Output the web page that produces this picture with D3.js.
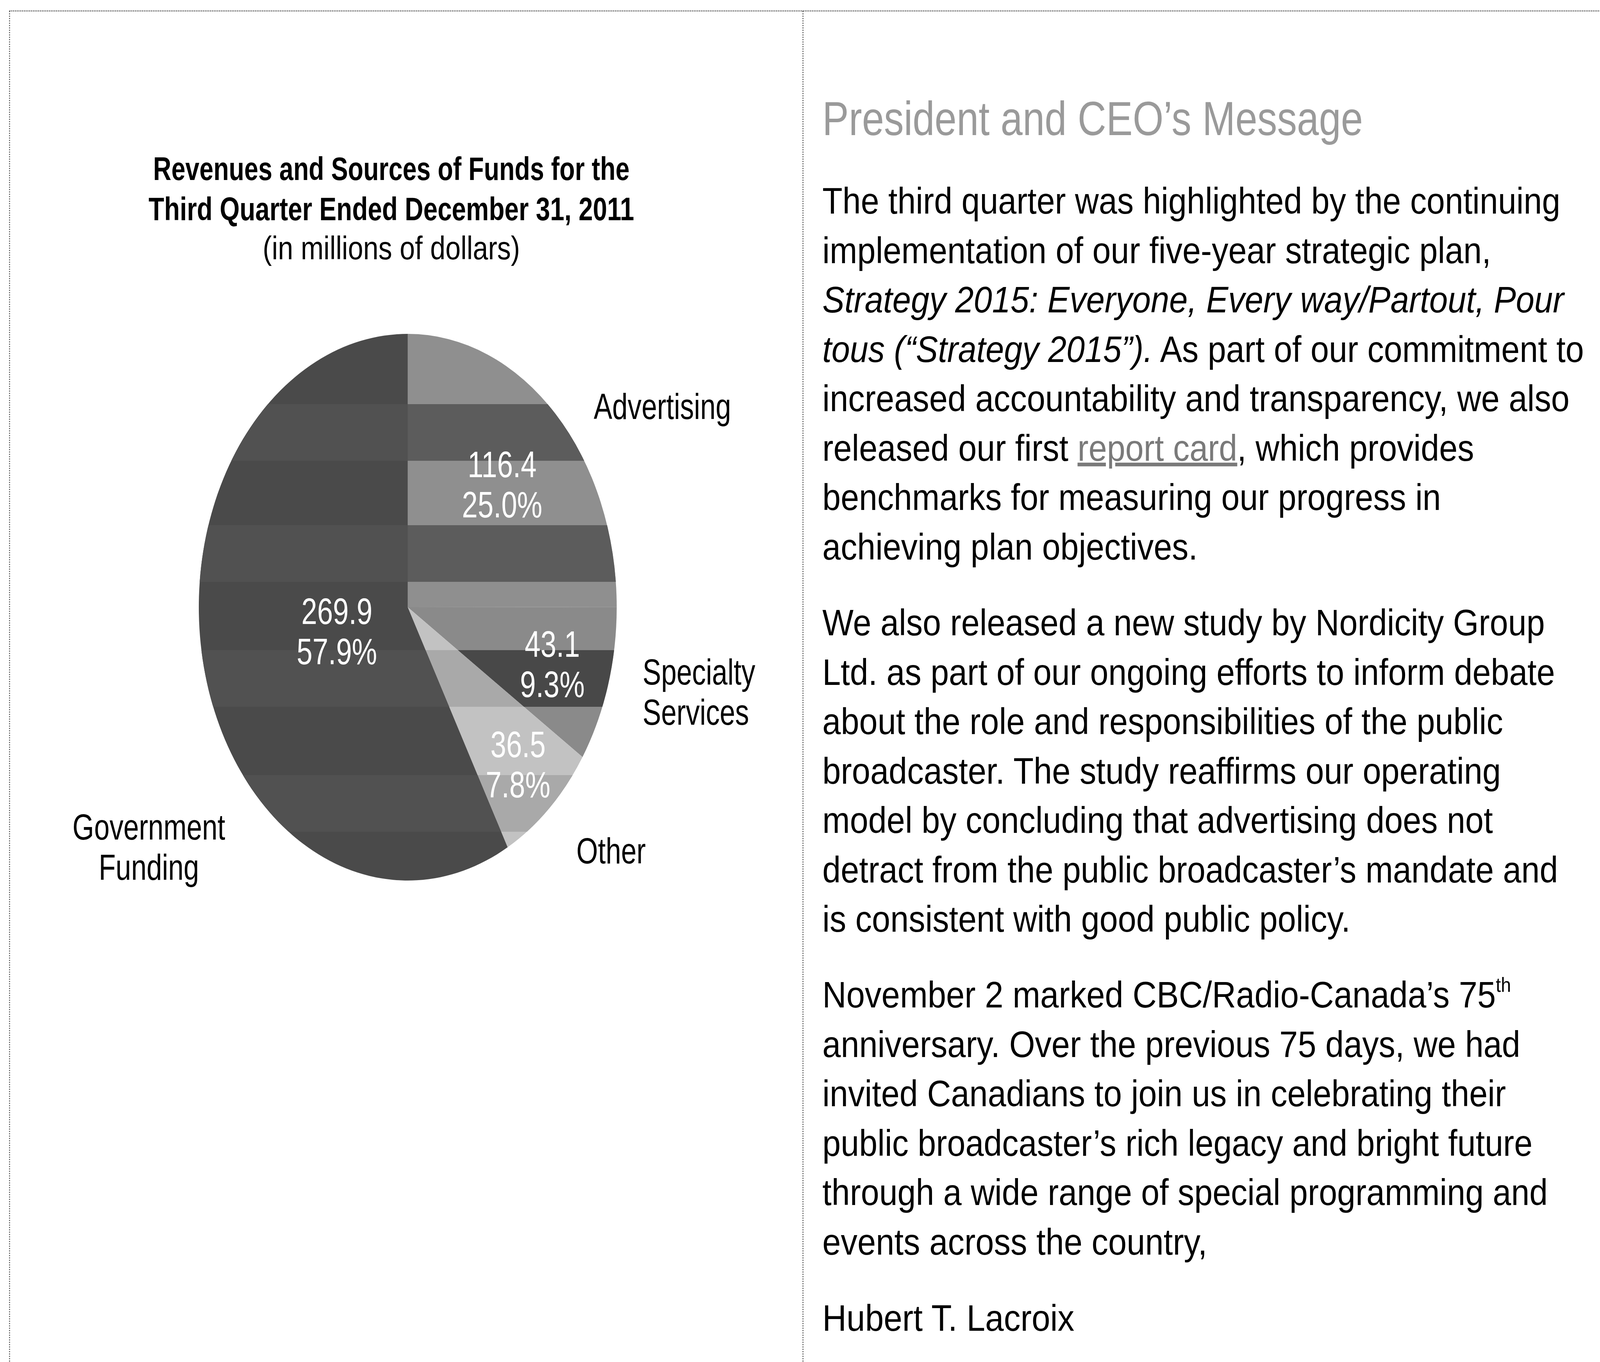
<!DOCTYPE html>
<html><head><meta charset="utf-8">
<script src="https://cdn.jsdelivr.net/npm/d3@7"></script>
<style>html,body{margin:0;padding:0;background:#fff;width:100%;height:100%;overflow:hidden;} svg{display:block;width:100vw;height:100vh}</style>
</head><body>
<script>
// ---------- data ----------
const categories = ["Advertising", "Specialty Services", "Other", "Government Funding"];
const values = [116.4, 43.1, 36.5, 269.9];
const valueLabels = ["116.4", "43.1", "36.5", "269.9"];
const percentLabels = ["25.0%", "9.3%", "7.8%", "57.9%"];
const outerLabelLines = [["Advertising"], ["Specialty", "Services"], ["Other"], ["Government", "Funding"]];
const titleLines = ["Revenues and Sources of Funds for the", "Third Quarter Ended December 31, 2011", "(in millions of dollars)"];
const heading = "President and CEO\u2019s Message";
// body lines: segments [text, style] (n = normal, i = italic, l = link, s = superscript)
const bodyParagraphs = [
  [
    [["The third quarter was highlighted by the continuing", "n"]],
    [["implementation of our five-year strategic plan,", "n"]],
    [["Strategy 2015: Everyone, Every way/Partout, Pour", "i"]],
    [["tous (\u201CStrategy 2015\u201D).", "i"], [" As part of our commitment to", "n"]],
    [["increased accountability and transparency, we also", "n"]],
    [["released our first ", "n"], ["report card", "l"], [", which provides", "n"]],
    [["benchmarks for measuring our progress in", "n"]],
    [["achieving plan objectives.", "n"]]
  ],
  [
    [["We also released a new study by Nordicity Group", "n"]],
    [["Ltd. as part of our ongoing efforts to inform debate", "n"]],
    [["about the role and responsibilities of the public", "n"]],
    [["broadcaster. The study reaffirms our operating", "n"]],
    [["model by concluding that advertising does not", "n"]],
    [["detract from the public broadcaster\u2019s mandate and", "n"]],
    [["is consistent with good public policy.", "n"]]
  ],
  [
    [["November 2 marked CBC/Radio-Canada\u2019s 75", "n"], ["th", "s"]],
    [["anniversary. Over the previous 75 days, we had", "n"]],
    [["invited Canadians to join us in celebrating their", "n"]],
    [["public broadcaster\u2019s rich legacy and bright future", "n"]],
    [["through a wide range of special programming and", "n"]],
    [["events across the country,", "n"]]
  ],
  [
    [["Hubert T. Lacroix", "n"]]
  ]
];

// ---------- layout / style ----------
const W = 5360, H = 3488;
const FONT = "'Liberation Sans', Arial, Helvetica, sans-serif";
const sliceFills = ["#8f8f8f", "#8a8a8a", "#c2c2c2", "#4a4a4a"];
const bandFills  = ["#5c5c5c", "#484848", "#a9a9a9", "#515151"];
const bandRanges = [[1035, 1180], [1345, 1490], [1665, 1810], [1985, 2130]]; // halftone scan banding (page y)
const pieCx = 1366, pieCy = 1555, R = 700;
const labelRadiusFrac = [0.639, 0.722, 0.779, 0.35];
const outerLabelLayout = [
  {dx: 0.89, dy: -0.689, anchor: "start"},
  {dx: 1.124, dy: 0.283, anchor: "start"},
  {dx: 0.807, dy: 0.937, anchor: "start"},
  {dx: -1.239, dy: 0.85, anchor: "middle"}
];
const titleWidths = [1596, 1627, 862];
const bodyWidths = [
  [2472, 2240, 2488, 2551, 2503, 2183, 2072, 1257],
  [2420, 2454, 2280, 2273, 2246, 2464, 1769],
  [2307, 2338, 2290, 2379, 2430, 1289],
  [844]
];
const paraStart = [547, 1627, 2580, 3408];
const lineStep = 126.5;
const textX = 2755;

const svg = d3.select("body").append("svg")
  .attr("viewBox", `0 0 ${W} ${H}`)
  .attr("preserveAspectRatio", "none")
  .style("font-family", FONT);
svg.append("rect").attr("width", W).attr("height", H).attr("fill", "#fff");

// dotted frame lines
const frame = svg.append("g").attr("stroke", "#4a4a4a").attr("stroke-width", 3).attr("stroke-dasharray", "3,3").attr("fill", "none");
frame.append("line").attr("x1", 32).attr("x2", W).attr("y1", 28).attr("y2", 28);
frame.append("line").attr("x1", 32).attr("x2", 32).attr("y1", 28).attr("y2", H);
frame.append("line").attr("x1", 2690).attr("x2", 2690).attr("y1", 28).attr("y2", H);

function fitWidth(sel, x, y, target) {
  const w = sel.node().getBBox().width;
  const s = w > 0 ? target / w : 1;
  sel.attr("transform", `translate(${x},${y}) scale(${s},1)`);
}

// ---------- title ----------
const titleCx = 1311;
const titleBase = [461, 564, 664];
titleLines.forEach((t, i) => {
  const tx = svg.append("text")
    .attr("text-anchor", "middle")
    .attr("font-size", 84)
    .attr("font-weight", i < 2 ? "bold" : "normal")
    .attr("fill", "#000")
    .text(t);
  fitWidth(tx, titleCx, titleBase[i], titleWidths[i]);
});

// ---------- pie ----------
const pie = d3.pie().sort(null).value(d => d)(values);
const arc = d3.arc().innerRadius(0).outerRadius(R);
const g = svg.append("g").attr("transform", `translate(${pieCx},${pieCy})`);

const clip = svg.append("defs").append("clipPath").attr("id", "bands");
clip.selectAll("rect").data(bandRanges).join("rect")
  .attr("x", -R - 10).attr("width", 2 * R + 20)
  .attr("y", d => d[0] - pieCy).attr("height", d => d[1] - d[0]);

g.selectAll("path.slice").data(pie).join("path")
  .attr("class", "slice")
  .attr("d", arc)
  .attr("fill", (d, i) => sliceFills[i]);
g.append("g").attr("clip-path", "url(#bands)")
  .selectAll("path.band").data(pie).join("path")
  .attr("class", "band")
  .attr("d", arc)
  .attr("fill", (d, i) => bandFills[i]);

// inner labels
pie.forEach((d, i) => {
  const r = R * labelRadiusFrac[i];
  const c = d3.arc().innerRadius(r).outerRadius(r).centroid(d);
  const t = g.append("text")
    .attr("text-anchor", "middle")
    .attr("font-size", 95)
    .attr("fill", "#fff");
  t.append("tspan").attr("x", c[0]).attr("y", c[1] - 17).text(valueLabels[i]);
  t.append("tspan").attr("x", c[0]).attr("y", c[1] + 86).text(percentLabels[i]);
});

// outer category labels
outerLabelLines.forEach((lines, i) => {
  const L = outerLabelLayout[i];
  const t = g.append("text")
    .attr("text-anchor", L.anchor)
    .attr("font-size", 93)
    .attr("fill", "#000");
  lines.forEach((ln, j) => {
    t.append("tspan").attr("x", L.dx * R).attr("y", L.dy * R + j * 103).text(ln);
  });
});

// ---------- right column ----------
const hd = svg.append("text")
  .attr("font-size", 122)
  .attr("fill", "#9a9a9a")
  .text(heading);
fitWidth(hd, textX, 346, 1811);

// build all body lines, then fit with a scale clamped near the median to avoid odd stretching
const bodyItems = [];
bodyParagraphs.forEach((para, p) => {
  para.forEach((segs, li) => {
    const y = paraStart[p] + li * lineStep;
    const t = svg.append("text").attr("font-size", 95).attr("fill", "#000");
    segs.forEach(([txt, st]) => {
      const sp = t.append("tspan").text(txt);
      if (st === "i") sp.attr("font-style", "italic");
      if (st === "l") sp.attr("fill", "#7a7a7a").attr("text-decoration", "underline");
      if (st === "s") sp.attr("font-size", 52).attr("dy", -40);
    });
    const nat = t.node().getBBox().width;
    bodyItems.push({t, y, nat, target: bodyWidths[p][li]});
  });
});
const ratios = bodyItems.map(b => b.target / b.nat);
const med = d3.median(ratios);
bodyItems.forEach(b => {
  const s = Math.max(med * 0.94, Math.min(med * 1.06, b.target / b.nat));
  b.t.attr("transform", `translate(${textX},${b.y}) scale(${s},1)`);
});
</script>
</body></html>
